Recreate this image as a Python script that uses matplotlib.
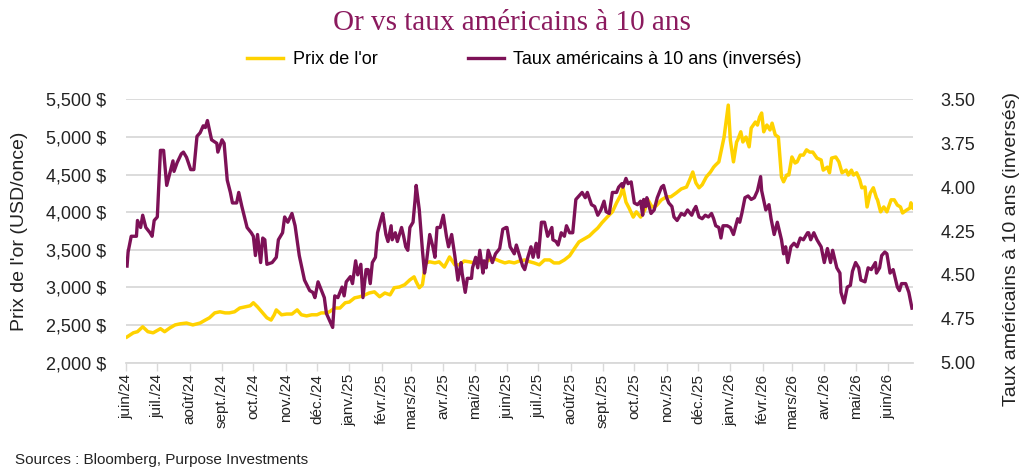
import numpy as np
import pandas as pd
import matplotlib
matplotlib.use("Agg")
import matplotlib.pyplot as plt
from matplotlib.ticker import FuncFormatter, FixedLocator

plt.rcParams['font.family'] = ['Liberation Sans', 'DejaVu Sans']

# jours depuis le 1er juin 2024 / prix de l'or (USD/once)
gold_days = [1, 7, 11, 16, 21, 26, 33, 37, 42, 47,
             52, 58, 64, 71, 76, 80, 85, 90, 95, 99,
             104, 109, 114, 119, 122, 126, 131, 135, 139, 142,
             144, 149, 154, 159, 164, 168, 173, 178, 183, 187,
             192, 195, 200, 205, 210, 214, 219, 224, 229, 233,
             238, 243, 248, 253, 257, 262, 267, 272, 276, 278,
             281, 284, 287, 291, 296, 300, 305, 310, 315, 320,
             324, 329, 334, 339, 343, 348, 353, 358, 363, 367,
             372, 377, 382, 387, 391, 396, 401, 406, 410, 415,
             420, 425, 430, 434, 439, 444, 448, 452, 456, 461,
             466, 470, 474, 476, 479, 482, 486, 489, 493, 497,
             500, 504, 508, 513, 518, 522, 527, 532, 537, 540,
             543, 546, 549, 552, 556, 560, 563, 565, 568, 571,
             573, 577, 579, 582, 585, 586, 589, 591, 594, 597,
             599, 603, 605, 607, 609, 611, 614, 617, 619, 622,
             625, 628, 630, 633, 635, 638, 641, 643, 646, 649,
             652, 655, 658, 662, 666, 668, 672, 674, 676, 680,
             683, 686, 690, 692, 695, 697, 700, 703, 705, 708,
             710, 713, 716, 719, 720, 723, 726, 729, 733, 736,
             739, 742, 744, 748, 751, 752, 754]
gold_price = [2340, 2395, 2410, 2475, 2410, 2395, 2450, 2410, 2460, 2500,
              2515, 2525, 2500, 2525, 2565, 2595, 2660, 2675, 2660, 2660,
              2675, 2725, 2740, 2755, 2795, 2740, 2660, 2595, 2565, 2635,
              2700, 2635, 2645, 2645, 2700, 2635, 2620, 2635, 2635, 2660,
              2660, 2675, 2725, 2725, 2795, 2805, 2860, 2875, 2900, 2925,
              2940, 2875, 2925, 2900, 2995, 3005, 3035, 3100, 3140, 3075,
              2995, 3035, 3325, 3340, 3325, 3340, 3270, 3405, 3300, 3300,
              3350, 3340, 3325, 3340, 3325, 3365, 3380, 3350, 3325, 3340,
              3325, 3350, 3365, 3340, 3325, 3300, 3365, 3365, 3325, 3325,
              3365, 3420, 3525, 3605, 3645, 3685, 3740, 3790, 3860, 3935,
              4005, 4125, 4230, 4335, 4135, 4055, 3935, 4005, 3935, 4030,
              4165, 4070, 4085, 4165, 4205, 4205, 4255, 4310, 4335, 4430,
              4535, 4390, 4325, 4365, 4470, 4535, 4600, 4630, 4670, 4870,
              5000, 5425, 4960, 4670, 4935, 4960, 5070, 4935, 5000, 4870,
              5120, 5200, 5160, 5265, 5320, 5070, 5160, 5095, 5185, 5030,
              5000, 4470, 4405, 4495, 4495, 4735, 4655, 4670, 4760, 4760,
              4830, 4800, 4800, 4720, 4695, 4560, 4600, 4525, 4720, 4735,
              4670, 4525, 4560, 4495, 4560, 4495, 4525, 4430, 4325, 4335,
              4070, 4255, 4325, 4190, 4165, 4005, 4070, 4005, 4165, 4165,
              4095, 4070, 3990, 4030, 4055, 4125, 4055]

# jours depuis le 1er juin 2024 / taux US 10 ans (%)
rate_days = [1, 2, 5, 10, 11, 14, 16, 19, 23, 25,
             27, 30, 33, 36, 39, 42, 45, 46, 49, 53,
             55, 58, 62, 65, 68, 71, 74, 76, 78, 82,
             87, 88, 92, 94, 97, 100, 102, 106, 108, 111,
             116, 120, 122, 124, 126, 129, 131, 133, 135, 140,
             144, 146, 150, 152, 155, 159, 162, 166, 171, 176,
             179, 181, 184, 188, 190, 192, 195, 198, 200, 203,
             207, 209, 211, 215, 217, 220, 222, 225, 227, 230,
             232, 234, 236, 239, 241, 244, 246, 249, 251, 254,
             255, 258, 260, 264, 266, 268, 270, 272, 275, 277,
             278, 281, 284, 286, 288, 291, 294, 296, 298, 301,
             304, 307, 309, 312, 315, 318, 321, 322, 325, 327,
             331, 332, 335, 337, 339, 342, 343, 345, 347, 351,
             354, 358, 361, 364, 365, 368, 372, 374, 377, 380,
             382, 385, 388, 390, 393, 395, 398, 401, 404, 408,
             409, 412, 414, 417, 420, 422, 425, 428, 431, 434,
             437, 440, 442, 446, 449, 452, 455, 458, 460, 463,
             466, 470, 472, 475, 476, 479, 481, 484, 487, 490,
             493, 495, 496, 498, 499, 503, 506, 509, 513, 515,
             518, 520, 523, 525, 528, 532, 535, 538, 542, 544,
             546, 549, 552, 555, 558, 561, 563, 565, 568, 570,
             572, 576, 579, 582, 586, 588, 590, 593, 596, 599,
             602, 605, 608, 609, 613, 616, 618, 621, 624, 628,
             630, 632, 634, 637, 640, 643, 646, 649, 653, 654,
             656, 659, 662, 666, 669, 672, 675, 677, 681, 684,
             685, 688, 691, 694, 696, 699, 702, 704, 708, 711,
             714, 718, 719, 722, 724, 727, 729, 732, 735, 739,
             741, 743, 747, 750, 753]
rate_pct = [4.45, 4.37, 4.28, 4.28, 4.19, 4.23, 4.16, 4.23, 4.26, 4.28,
            4.19, 4.17, 3.79, 3.79, 3.99, 3.92, 3.85, 3.91, 3.86, 3.81,
            3.80, 3.83, 3.90, 3.90, 3.71, 3.69, 3.65, 3.66, 3.62, 3.73,
            3.75, 3.80, 3.73, 3.75, 3.96, 4.03, 4.09, 4.09, 4.03, 4.11,
            4.23, 4.26, 4.28, 4.39, 4.27, 4.43, 4.29, 4.30, 4.44, 4.43,
            4.40, 4.30, 4.26, 4.17, 4.20, 4.15, 4.22, 4.39, 4.53, 4.59,
            4.60, 4.63, 4.54, 4.60, 4.63, 4.72, 4.76, 4.80, 4.62, 4.63,
            4.57, 4.62, 4.54, 4.51, 4.55, 4.42, 4.50, 4.44, 4.63, 4.47,
            4.47, 4.55, 4.43, 4.40, 4.26, 4.19, 4.15, 4.27, 4.31, 4.22,
            4.30, 4.26, 4.31, 4.23, 4.28, 4.34, 4.36, 4.23, 4.20, 4.07,
            3.99, 4.13, 4.36, 4.49, 4.42, 4.27, 4.34, 4.40, 4.23, 4.23,
            4.16, 4.28, 4.34, 4.27, 4.39, 4.53, 4.43, 4.49, 4.60, 4.52,
            4.52, 4.46, 4.40, 4.46, 4.36, 4.49, 4.42, 4.46, 4.36, 4.43,
            4.38, 4.35, 4.24, 4.23, 4.23, 4.34, 4.38, 4.33, 4.39, 4.45,
            4.47, 4.40, 4.34, 4.40, 4.32, 4.40, 4.20, 4.20, 4.28, 4.23,
            4.30, 4.31, 4.33, 4.26, 4.28, 4.22, 4.26, 4.26, 4.07, 4.05,
            4.03, 4.06, 4.03, 4.10, 4.11, 4.16, 4.13, 4.08, 4.14, 4.15,
            4.03, 4.03, 4.00, 3.98, 4.00, 3.95, 3.98, 3.97, 4.09, 4.10,
            4.08, 4.16, 4.07, 4.11, 4.06, 4.15, 4.13, 4.06, 4.00, 3.99,
            4.06, 4.09, 4.11, 4.17, 4.19, 4.15, 4.16, 4.13, 4.16, 4.13,
            4.11, 4.17, 4.18, 4.16, 4.17, 4.15, 4.18, 4.22, 4.23, 4.29,
            4.22, 4.22, 4.23, 4.27, 4.18, 4.20, 4.15, 4.06, 4.05, 4.07,
            4.06, 4.02, 3.94, 4.02, 4.13, 4.10, 4.18, 4.27, 4.20, 4.30,
            4.38, 4.34, 4.43, 4.34, 4.32, 4.34, 4.29, 4.30, 4.26, 4.26,
            4.30, 4.26, 4.30, 4.34, 4.43, 4.35, 4.43, 4.36, 4.46, 4.49,
            4.60, 4.66, 4.57, 4.56, 4.48, 4.43, 4.46, 4.53, 4.54, 4.46,
            4.47, 4.43, 4.49, 4.46, 4.39, 4.37, 4.38, 4.49, 4.47, 4.57,
            4.59, 4.55, 4.55, 4.60, 4.69]

month_labels = ['juin/24', 'juil./24', 'août/24', 'sept./24', 'oct./24', 'nov./24',
                'déc./24', 'janv./25', 'févr./25', 'mars/25', 'avr./25', 'mai/25',
                'juin/25', 'juil./25', 'août/25', 'sept./25', 'oct./25', 'nov./25',
                'déc./25', 'janv./26', 'févr./26', 'mars/26', 'avr./26', 'mai/26',
                'juin/26']

gold_ticks = [2000, 2500, 3000, 3500, 4000, 4500, 5000, 5500]
rate_ticks = [3.50, 3.75, 4.00, 4.25, 4.50, 4.75, 5.00]

start = pd.Timestamp('2024-06-01')
end_day = 754
GOLD = '#FFD200'
PURPLE = '#7D1157'
TEXT = '#222222'

gold_dates = start + pd.to_timedelta(gold_days, unit='D')
rate_dates = start + pd.to_timedelta(rate_days, unit='D')
month_ticks = pd.date_range(start, periods=len(month_labels), freq='MS')

fig = plt.figure(figsize=(10.24, 4.76), dpi=100)
ax = fig.add_axes([126 / 1024, 1 - 362.5 / 476, 787 / 1024, 263 / 476])
ax2 = ax.twinx()

l1, = ax.plot(gold_dates, gold_price, color=GOLD, linewidth=2.5)
l2, = ax2.plot(rate_dates, rate_pct, color=PURPLE, linewidth=2.4)

ax.set_xlim(start, start + pd.Timedelta(days=end_day))
ax.set_ylim(2000, 5500)
ax2.set_ylim(5.0, 3.5)

ax.yaxis.set_major_locator(FixedLocator(gold_ticks))
ax.yaxis.set_major_formatter(FuncFormatter(lambda v, p: "{:,.0f} $".format(v)))
ax2.yaxis.set_major_locator(FixedLocator(rate_ticks))
ax2.yaxis.set_major_formatter(FuncFormatter(lambda v, p: "{:.2f}".format(v)))

ax.set_xticks(month_ticks)
ax.set_xticklabels(month_labels, rotation=90)

ax.grid(axis='y', color='#D9D9D9', linewidth=1.3)
ax.set_axisbelow(True)
for s in ['top', 'left', 'right']:
    ax.spines[s].set_visible(False)
ax.spines['bottom'].set_color('#D9D9D9')
ax.spines['bottom'].set_linewidth(1.3)
for s in ax2.spines.values():
    s.set_visible(False)

ax.tick_params(axis='y', length=0, pad=14, labelsize=13, labelcolor=TEXT)
ax.tick_params(axis='x', length=6, width=1, color='#D9D9D9', pad=2, labelsize=11, labelcolor=TEXT)
ax2.tick_params(axis='y', length=0, pad=20, labelsize=13, labelcolor=TEXT)

ax.set_ylabel("Prix de l'or (USD/once)", fontsize=14, color=TEXT)
ax.yaxis.set_label_coords(-0.124, 0.5)
ax2.set_ylabel("Taux américains à 10 ans (inversés)", fontsize=14, color=TEXT, rotation=90)
ax2.yaxis.set_label_coords(1.114, 0.43)

fig.text(0.5, 1 - 23 / 476, "Or vs taux américains à 10 ans", ha='center', va='center',
         fontsize=21, color='#8B1A5E', family=['Liberation Serif', 'DejaVu Serif'])

fig.legend([l1, l2], ["Prix de l'or", "Taux américains à 10 ans (inversés)"],
           loc='center', bbox_to_anchor=(0.512, 1 - 60 / 476), ncol=2, frameon=False,
           fontsize=13, handlelength=2.0, handletextpad=0.5, columnspacing=5)

fig.text(15 / 1024, 1 - 460 / 476, "Sources : Bloomberg, Purpose Investments",
         ha='left', va='center', fontsize=11, color=TEXT)

fig.savefig("out.png", dpi=100)
